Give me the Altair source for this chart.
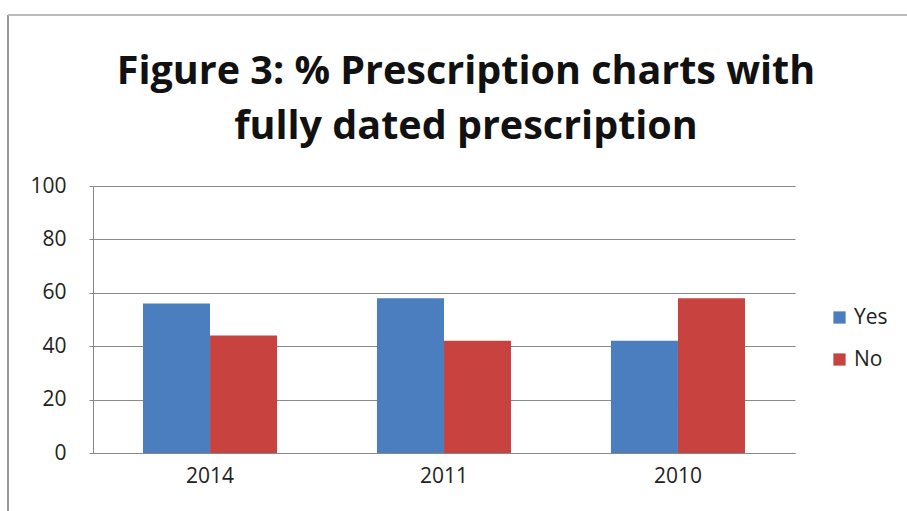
import altair as alt
import pandas as pd

years = ["2014", "2011", "2010"]
yes_vals = [56, 58, 42]
no_vals = [44, 42, 58]
series = ["Yes", "No"]
colors = ["#4A7EBF", "#C8433F"]

rows = []
for i, y in enumerate(years):
    rows.append({"year": y, "series": "Yes", "value": yes_vals[i]})
    rows.append({"year": y, "series": "No", "value": no_vals[i]})
df = pd.DataFrame(rows)

font = "Open Sans"

bars = alt.Chart(df).mark_bar(size=67).encode(
    x=alt.X("year:N", sort=years, title=None,
            scale=alt.Scale(paddingInner=0.427, paddingOuter=0.2137),
            axis=alt.Axis(labelAngle=0, labelFontSize=21, labelFont=font, labelColor="#222",
                          domainColor="#888", tickColor="#888", ticks=False, labelPadding=12,
                          grid=False)),
    xOffset=alt.XOffset("series:N", sort=series, scale=alt.Scale(paddingInner=0, paddingOuter=0)),
    y=alt.Y("value:Q", title=None, scale=alt.Scale(domain=[0, 100]),
            axis=alt.Axis(values=[0, 20, 40, 60, 80, 100], labelFontSize=21, labelFont=font,
                          labelColor="#222", gridColor="#8a8a8a", domainColor="#888",
                          tickColor="#888", tickSize=4, labelPadding=23)),
    color=alt.Color("series:N", sort=series, scale=alt.Scale(domain=series, range=colors),
                    legend=alt.Legend(title=None, orient="none", legendX=736, legendY=121,
                                      symbolType="square", symbolSize=150, labelFontSize=21,
                                      labelFont=font, labelColor="#222", rowPadding=20,
                                      symbolStrokeWidth=0)),
)

frame_left = alt.Chart(df).mark_rule(color="#999", strokeWidth=2).encode(
    x=alt.value(-85), y=alt.value(-171), y2=alt.value(330))
frame_top = alt.Chart(df).mark_rule(color="#bbb", strokeWidth=2).encode(
    x=alt.value(-85), x2=alt.value(820), y=alt.value(-171))

chart = alt.layer(frame_left, frame_top, bars).properties(
    width=702, height=267,
    background="white",
    title=alt.TitleParams(["Figure 3: % Prescription charts with", "fully dated prescription"],
                          fontSize=39.5, font=font, fontWeight="bold", color="#111",
                          anchor="middle", dx=22, offset=-133, lineHeight=55),
    padding={"left": 93, "top": 186, "right": 112, "bottom": 58},
    autosize=alt.AutoSizeParams(type="none"),
).configure_view(stroke=None)

chart.save("out.html", embed_options={"renderer": "svg", "actions": False})
